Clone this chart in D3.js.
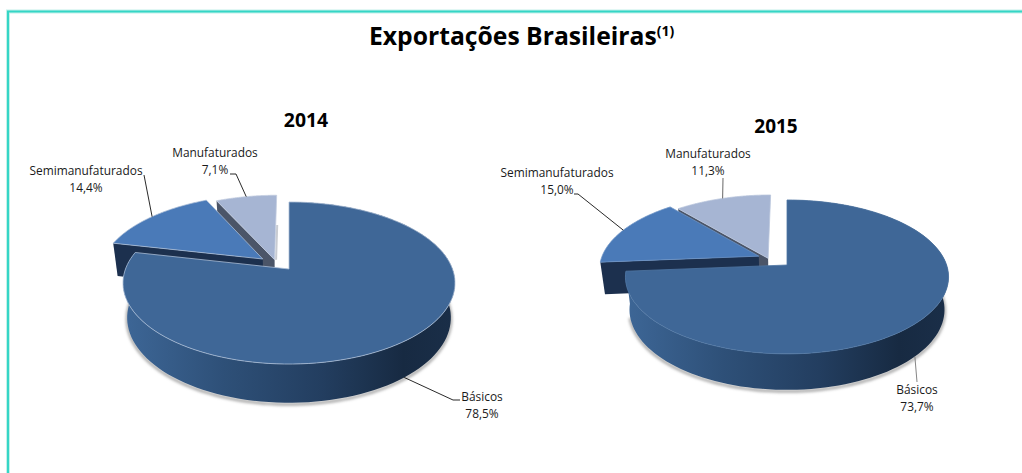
<!DOCTYPE html>
<html>
<head>
<meta charset="utf-8">
<script src="https://cdnjs.cloudflare.com/ajax/libs/d3/7.8.5/d3.min.js"></script>
<style>
html,body{margin:0;padding:0;background:#fff}
svg{display:block}
text{font-family:"Open Sans",sans-serif;fill:#1a1a1a}
</style>
</head>
<body>
<svg id="c" width="1022" height="473"></svg>
<script>
const categories = ["Básicos", "Semimanufaturados", "Manufaturados"];
const values2014 = [78.5, 14.4, 7.1];
const values2015 = [73.7, 15.0, 11.3];
const years = ["2014", "2015"];
const chartTitle = "Exportações Brasileiras";
const titleNote = "(1)";

const colors = {top: ["#3f6797", "#4a7ab8", "#a6b5d3"], face: ["#1b2f4b", "#1c304e", "#4b5568"]};

// Layout of each perspective pie (not data)
const layouts = [
  {year: years[0], values: values2014, vx: 289, vy: 269, rx: 163.5, ry: 78.6, k: 0.173, depth: 34,
   explode: [[0,0],[-0.164,-0.13],[-0.09,-0.12]],
   yearPos: [306, 127], yearSize: 19.4, rimStroke: ["#a9bdd6","#a9bdd6","#c3cddf"], sideShadow: true,
   labels: [{x:482,y:401,path:[[453,400],[460,400]]},{x:86,y:175,path:[[144,175]]},{x:215,y:157,path:[[236,174],[230,174]]}],
   leaderColor:["#111","#111","#111"]},
  {year: years[1], values: values2015, vx: 787, vy: 265, rx: 159.6, ry: 75.1, k: 0.155, depth: 32.3,
   explode: [[0,0],[-0.18,-0.12],[-0.12,-0.09]],
   yearPos: [776, 133], yearSize: 19, rimStroke: ["#4f76a3","#6b92c4","#b9c5dc"], sideShadow: false,
   labels: [{x:917,y:394,path:[[917,382]]},{x:557,y:177,path:[[578,194],[574,194]]},{x:708,y:158,path:[[723,178]]}],
   leaderColor:["#777","#111","#555"]}
];
const shrink = 0.975;

const svg = d3.select("#c");
const defs = svg.append("defs");
const blur = defs.append("filter").attr("id","soft").attr("x","-10%").attr("y","-10%").attr("width","120%").attr("height","120%");
blur.append("feGaussianBlur").attr("stdDeviation",1.6);
const bb = defs.append("filter").attr("id","bd");
bb.append("feGaussianBlur").attr("stdDeviation",0.6);

// border
const frame = d3.path(); frame.moveTo(8,473); frame.lineTo(8,11.5); frame.lineTo(1022,11.5);
svg.append("path").attr("d",frame.toString()).attr("fill","none").attr("stroke","#c4f0ea").attr("stroke-width",4);
svg.append("path").attr("d",frame.toString()).attr("fill","none").attr("stroke","#35d6c6").attr("stroke-width",2);

// title
const t = svg.append("text").attr("x",369).attr("y",45).attr("font-size",24.7).attr("font-weight",700).style("fill","#000").text(chartTitle);
t.append("tspan").attr("dy",-9).attr("font-size",14).text(titleNote);

const line = d3.line();
const pieGen = d3.pie().sort(null).value(d=>d);

layouts.forEach((L,li)=>{
  const proj = (u,v,lower)=>{
    const w = 1 - L.k*v, s = lower?shrink:1;
    return [L.vx + L.rx*s*u/w, L.vy + L.ry*s*v/w + (lower?L.depth/w:0)];
  };
  const rim = (a,off)=>[off[0]+Math.sin(a), off[1]-Math.cos(a)];
  const arcPts = (a0,a1,off,lower)=>d3.range(0,121).map(i=>{
    const a=a0+(a1-a0)*i/120, p=rim(a,off); return proj(p[0],p[1],lower);
  });
  const arcs = pieGen(L.values);
  const gid = "side"+li;
  const g = defs.append("linearGradient").attr("id",gid).attr("gradientUnits","userSpaceOnUse")
    .attr("x1",L.vx-L.rx).attr("x2",L.vx+L.rx).attr("y1",0).attr("y2",0);
  [[0,"#3d6696"],[0.3,"#2e5078"],[0.6,"#233e60"],[0.85,"#172a42"],[1,"#1a2e48"]].forEach(s=>g.append("stop").attr("offset",s[0]).attr("stop-color",s[1]));

  const G = svg.append("g");
  // soft shadow under the main slice
  const main = arcs[0];
  G.append("path").attr("d",line(arcPts(main.startAngle+Math.PI*0.25,main.endAngle-Math.PI*0.05,[0,0],true).map(p=>[p[0],p[1]+1.5])))
    .attr("fill","none").attr("stroke","#9a9a9a").attr("stroke-width",2.5).attr("filter","url(#soft)");

  // draw back-to-front: manufaturados, semimanufaturados, basicos
  [2,1,0].forEach(i=>{
    const a = arcs[i], off = L.explode[i];
    if(i===0){
      const topR = arcPts(a.startAngle,a.endAngle,off,false);
      const botR = arcPts(a.startAngle,a.endAngle,off,true);
      G.append("path").attr("d",line(topR.concat(botR.reverse()))+"Z").attr("fill",`url(#${gid})`);
    } else {
      const s = rim(a.startAngle,off);
      const face = [proj(off[0],off[1],false),proj(s[0],s[1],false),proj(s[0],s[1],true),proj(off[0],off[1],true)];
      G.append("path").attr("d",line(face)+"Z").attr("fill",colors.face[i]);
      if(i===2 && L.sideShadow){
        const e = rim(a.endAngle,off);
        const mx=(off[0]+e[0])/2, my=(off[1]+e[1])/2;
        const edge=[proj(mx,my,false),proj(off[0],off[1],false)];
        G.append("path").attr("d",line(edge)).attr("fill","none").attr("stroke","#c9ccd2").attr("stroke-width",2).attr("transform","translate(1.5,0)");
      }
    }
    const poly=[proj(off[0],off[1],false)].concat(arcPts(a.startAngle,a.endAngle,off,false));
    G.append("path").attr("d",line(poly)+"Z").attr("fill",colors.top[i])
      .attr("stroke",L.rimStroke[i]).attr("stroke-width",0.8).attr("stroke-linejoin","round");
  });

  // leaders & labels
  arcs.forEach((a,i)=>{
    const off=L.explode[i], mid=(a.startAngle+a.endAngle)/2, p=rim(mid,off);
    const anchor=proj(p[0],p[1],i===0);
    const lab=L.labels[i];
    G.append("path").attr("d",line([anchor].concat(lab.path))).attr("fill","none").attr("stroke",L.leaderColor[i]).attr("stroke-width",0.9);
    const tx=G.append("text").attr("text-anchor","middle").attr("font-size",11.9);
    tx.append("tspan").attr("x",lab.x).attr("y",lab.y).text(categories[i]);
    tx.append("tspan").attr("x",lab.x).attr("y",lab.y+17).text(d3.format(".1f")(L.values[i]).replace(".",",")+"%");
  });
  G.append("text").attr("x",L.yearPos[0]).attr("y",L.yearPos[1]).attr("text-anchor","middle")
    .attr("font-size",L.yearSize).attr("font-weight",700).style("fill","#000").text(L.year);
});
</script>
</body>
</html>
